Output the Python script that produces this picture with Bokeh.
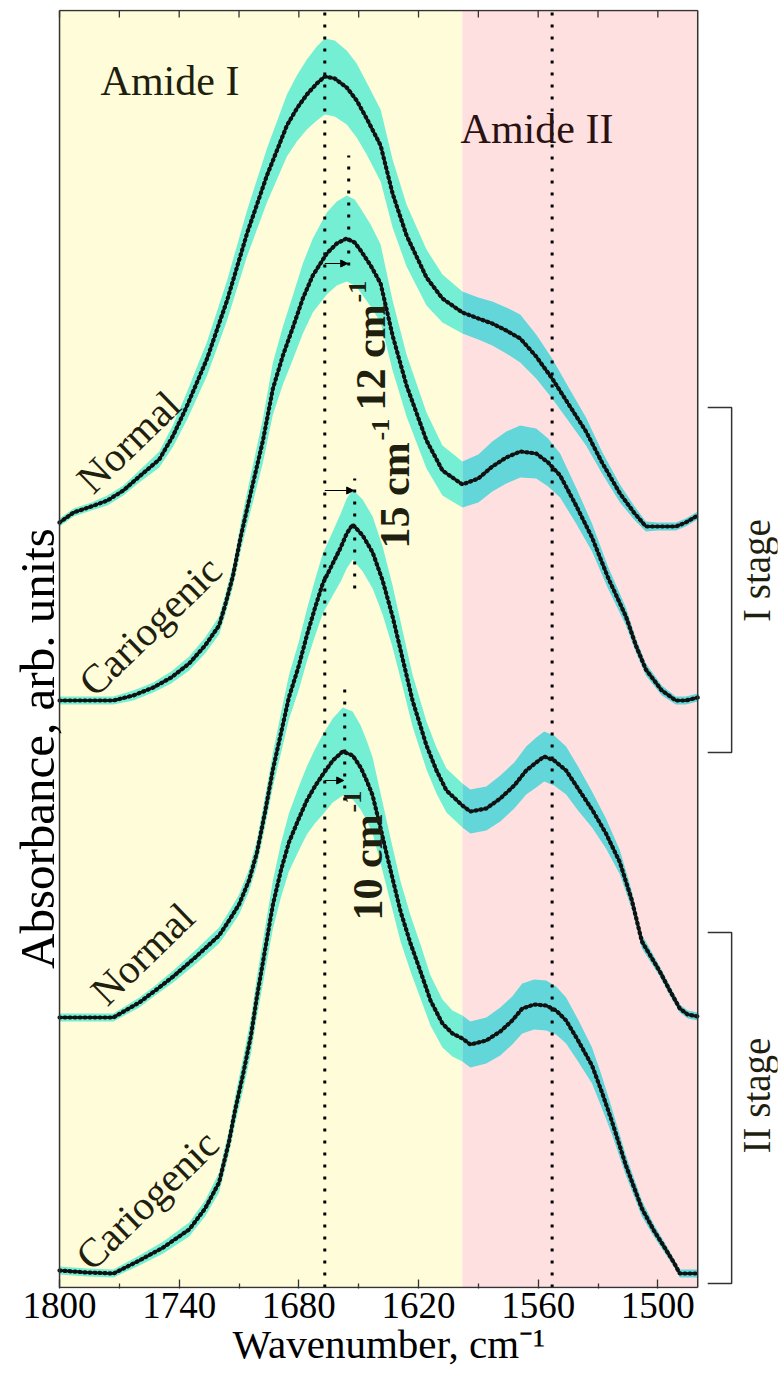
import numpy as np
from bokeh.plotting import figure
from bokeh.models import Range1d, FixedTicker, Label, Arrow, NormalHead, ColumnDataSource
from bokeh.embed import file_html
from bokeh.resources import INLINE

# ---------------- data ----------------
# wavenumber (cm-1), mean absorbance (arb. units, stacked with offsets), std
wn_normal_1 = [1800, 1793, 1784, 1776, 1768, 1760, 1750, 1743, 1736, 1726,
               1716, 1706, 1696, 1686, 1681, 1676, 1671, 1667, 1662, 1656,
               1651, 1646, 1639, 1633, 1626, 1616, 1608, 1598, 1590, 1583,
               1576, 1569, 1561, 1553, 1545, 1536, 1528, 1519, 1512, 1506,
               1500, 1491, 1486, 1480]
abs_normal_1 = [7.65, 7.75, 7.81, 7.87, 7.97, 8.11, 8.28, 8.52, 8.82, 9.29,
                9.87, 10.54, 11.12, 11.62, 11.79, 11.93, 12.04, 12.11, 12.09, 12.00,
                11.87, 11.69, 11.42, 10.94, 10.52, 10.10, 9.89, 9.75, 9.69, 9.64,
                9.57, 9.49, 9.31, 9.09, 8.84, 8.56, 8.25, 7.94, 7.75, 7.61,
                7.61, 7.61, 7.65, 7.72]
sd_normal_1 = [0.04, 0.04, 0.04, 0.05, 0.05, 0.06, 0.08, 0.11, 0.14, 0.17,
               0.20, 0.23, 0.27, 0.31, 0.33, 0.35, 0.37, 0.38, 0.38, 0.37,
               0.37, 0.36, 0.36, 0.34, 0.31, 0.28, 0.24, 0.21, 0.21, 0.22,
               0.23, 0.24, 0.22, 0.20, 0.17, 0.14, 0.11, 0.09, 0.07, 0.05,
               0.04, 0.04, 0.04, 0.04]

wn_carie_1 = [1800, 1786, 1773, 1763, 1753, 1744, 1735, 1727, 1720, 1717,
              1713, 1709, 1705, 1698, 1693, 1688, 1683, 1678, 1673, 1666,
              1661, 1656, 1652, 1649, 1644, 1639, 1633, 1626, 1616, 1608,
              1598, 1590, 1583, 1576, 1569, 1561, 1555, 1549, 1541, 1533,
              1525, 1516, 1511, 1506, 1498, 1491, 1486, 1480]
abs_carie_1 = [5.87, 5.87, 5.87, 5.92, 6.00, 6.10, 6.24, 6.42, 6.62, 6.82,
               7.12, 7.52, 7.87, 8.47, 8.99, 9.32, 9.60, 9.89, 10.12, 10.34,
               10.44, 10.49, 10.45, 10.37, 10.22, 10.04, 9.52, 9.02, 8.47, 8.17,
               8.03, 8.09, 8.21, 8.30, 8.36, 8.34, 8.25, 8.12, 7.82, 7.50,
               7.10, 6.71, 6.42, 6.18, 5.97, 5.87, 5.87, 5.90]
sd_carie_1 = [0.04, 0.04, 0.04, 0.05, 0.05, 0.06, 0.07, 0.08, 0.09, 0.10,
              0.11, 0.14, 0.17, 0.22, 0.26, 0.29, 0.32, 0.35, 0.37, 0.41,
              0.42, 0.43, 0.43, 0.42, 0.41, 0.39, 0.35, 0.31, 0.28, 0.25,
              0.23, 0.24, 0.25, 0.26, 0.26, 0.25, 0.24, 0.22, 0.18, 0.14,
              0.11, 0.09, 0.07, 0.06, 0.05, 0.04, 0.04, 0.04]

wn_normal_2 = [1800, 1786, 1773, 1760, 1752, 1743, 1732, 1720, 1715, 1710,
               1705, 1701, 1697, 1693, 1689, 1685, 1680, 1676, 1672, 1668,
               1663, 1659, 1656, 1653, 1648, 1643, 1638, 1633, 1628, 1623,
               1616, 1611, 1606, 1598, 1594, 1586, 1579, 1572, 1566, 1561,
               1557, 1552, 1546, 1540, 1533, 1526, 1519, 1513, 1508, 1499,
               1494, 1489, 1485, 1480]
abs_normal_2 = [2.70, 2.70, 2.70, 2.85, 2.97, 3.11, 3.30, 3.52, 3.67, 3.83,
                4.07, 4.35, 4.75, 5.18, 5.54, 5.90, 6.22, 6.52, 6.79, 7.04,
                7.24, 7.40, 7.54, 7.63, 7.52, 7.35, 7.07, 6.71, 6.29, 5.87,
                5.42, 5.17, 4.97, 4.82, 4.76, 4.79, 4.89, 5.02, 5.17, 5.25,
                5.31, 5.27, 5.17, 4.99, 4.78, 4.54, 4.25, 3.87, 3.46, 3.16,
                2.97, 2.79, 2.73, 2.71]
sd_normal_2 = [0.04, 0.04, 0.04, 0.05, 0.05, 0.06, 0.07, 0.08, 0.09, 0.10,
               0.11, 0.13, 0.15, 0.17, 0.20, 0.22, 0.24, 0.26, 0.28, 0.30,
               0.32, 0.34, 0.35, 0.35, 0.36, 0.36, 0.34, 0.31, 0.28, 0.26,
               0.24, 0.23, 0.22, 0.22, 0.22, 0.22, 0.23, 0.23, 0.24, 0.25,
               0.25, 0.25, 0.24, 0.22, 0.18, 0.15, 0.12, 0.09, 0.07, 0.05,
               0.05, 0.04, 0.04, 0.04]

wn_carie_2 = [1800, 1786, 1773, 1760, 1748, 1735, 1727, 1720, 1715, 1712,
              1708, 1704, 1701, 1697, 1693, 1689, 1685, 1680, 1676, 1672,
              1668, 1663, 1658, 1653, 1649, 1646, 1643, 1639, 1634, 1629,
              1624, 1619, 1614, 1608, 1603, 1598, 1594, 1586, 1579, 1573,
              1568, 1562, 1556, 1551, 1546, 1540, 1533, 1528, 1523, 1516,
              1508, 1502, 1496, 1492, 1489, 1485, 1480]
abs_carie_2 = [0.17, 0.15, 0.14, 0.27, 0.40, 0.58, 0.79, 1.05, 1.46, 1.77,
               2.13, 2.52, 2.91, 3.37, 3.83, 4.17, 4.45, 4.69, 4.87, 5.01,
               5.13, 5.27, 5.36, 5.32, 5.20, 5.07, 4.92, 4.59, 4.17, 3.76,
               3.44, 3.16, 2.87, 2.64, 2.54, 2.49, 2.43, 2.47, 2.56, 2.67,
               2.79, 2.83, 2.82, 2.77, 2.67, 2.47, 2.22, 1.95, 1.66, 1.22,
               0.79, 0.57, 0.38, 0.25, 0.14, 0.14, 0.14]
sd_carie_2 = [0.04, 0.04, 0.04, 0.05, 0.06, 0.07, 0.08, 0.10, 0.12, 0.14,
              0.16, 0.18, 0.20, 0.22, 0.24, 0.27, 0.29, 0.32, 0.34, 0.37,
              0.40, 0.42, 0.44, 0.44, 0.42, 0.40, 0.38, 0.35, 0.32, 0.30,
              0.28, 0.27, 0.25, 0.24, 0.23, 0.23, 0.23, 0.23, 0.24, 0.24,
              0.25, 0.25, 0.25, 0.24, 0.23, 0.21, 0.18, 0.16, 0.13, 0.10,
              0.08, 0.06, 0.05, 0.04, 0.04, 0.04, 0.04]

series = [
    (wn_normal_1, abs_normal_1, sd_normal_1),
    (wn_carie_1, abs_carie_1, sd_carie_1),
    (wn_normal_2, abs_normal_2, sd_normal_2),
    (wn_carie_2, abs_carie_2, sd_carie_2),
]
for w, a, s in series:
    assert len(w) == len(a) == len(s)

sample_names = ["Normal", "Cariogenic", "Normal", "Cariogenic"]
sample_label_x = [1788.0, 1787.0, 1781.0, 1788.5]
sample_label_y = [8.02, 5.99, 2.90, 0.25]

# spectral regions
WN_START, WN_SPLIT, WN_END = 1800, 1598, 1480
Y_TOP = 12.77

# peak positions (dotted lines) and shifts
peak_amide1 = 1667
peak_amide2 = 1553
shift_values = [12, 15, 10]
shift_peaks = [1655, 1652, 1657]
shift_dot_lo = [10.22, 6.99, 4.87]
shift_dot_hi = [11.32, 8.09, 6.03]
shift_arrow_y = [10.24, 7.97, 5.07]

stage_names = ["I stage", "II stage"]
stage_top = [8.80, 3.55]
stage_bottom = [5.35, 0.04]
stage_text_y = [7.17, 1.92]

major_ticks = [1800, 1740, 1680, 1620, 1560, 1500]
minor_ticks = [1770, 1710, 1650, 1590, 1530]
top_ticks = [1800, 1770, 1740, 1710, 1680, 1650, 1620, 1590, 1560, 1530, 1500]

# ---------------- styles ----------------
SERIF = "Liberation Serif"
YELLOW = "#FFFDD9"
PINK = "#FFE0E0"
BAND1 = "#74EFD3"
BAND2 = "#62D6D8"
FRAME = "#333333"
TXT = "#1F1F10"

p = figure(width=778, height=1385,
           x_range=Range1d(1829.6, 1440.0), y_range=Range1d(-0.01, 12.78),
           output_backend="svg", toolbar_location=None, y_axis_location=None,
           min_border_left=0, min_border_right=1, min_border_top=9, min_border_bottom=97)
p.outline_line_color = None
p.grid.visible = False
p.background_fill_color = "white"
p.border_fill_color = "white"

# backgrounds
p.quad(left=[WN_START], right=[WN_SPLIT], bottom=[0], top=[Y_TOP], fill_color=YELLOW, line_color=None)
p.quad(left=[WN_SPLIT], right=[WN_END], bottom=[0], top=[Y_TOP], fill_color=PINK, line_color=None)

# std bands
for w, a, s in series:
    w = np.array(w, float); a = np.array(a, float); s = np.array(s, float)
    m1 = w >= WN_SPLIT
    m2 = w <= WN_SPLIT
    p.varea(x=w[m1], y1=a[m1] - s[m1], y2=a[m1] + s[m1], fill_color=BAND1)
    p.varea(x=w[m2], y1=a[m2] - s[m2], y2=a[m2] + s[m2], fill_color=BAND2)

# dotted peak lines
for xv in [peak_amide1, peak_amide2]:
    p.line([xv, xv], [0, Y_TOP], line_color="black", line_width=3, line_dash="3 9")
for xv, lo, hi in zip(shift_peaks, shift_dot_lo, shift_dot_hi):
    p.line([xv, xv], [lo, hi], line_color="black", line_width=3, line_dash="3 9")

# mean spectra (solid line + beads)
for w, a, s in series:
    src = ColumnDataSource(dict(x=w, y=a))
    p.line("x", "y", source=src, line_color="#111111", line_width=2.4)
    p.line("x", "y", source=src, line_color="#111111", line_width=4.2, line_dash="1 4",
           line_cap="round")

# frame lines and top ticks
p.line([WN_START, WN_END], [Y_TOP, Y_TOP], line_color=FRAME, line_width=1.5)
p.line([WN_START, WN_END], [0, 0], line_color=FRAME, line_width=1.5)
p.line([WN_END, WN_END], [0, Y_TOP], line_color=FRAME, line_width=1.5)
p.line([WN_START, WN_START], [0, Y_TOP], line_color=FRAME, line_width=1.5)
p.segment(x0=top_ticks, y0=[Y_TOP] * len(top_ticks), x1=top_ticks,
          y1=[Y_TOP - 0.07] * len(top_ticks), line_color=FRAME, line_width=1.3)

# stage brackets
BX0, BX1 = 1475.0, 1463.0
for top, bot, name, ty in zip(stage_top, stage_bottom, stage_names, stage_text_y):
    p.line([BX0, BX1, BX1, BX0], [top, top, bot, bot], line_color=FRAME, line_width=1.5)
    p.add_layout(Label(x=1450.5, y=ty, text=name, angle=np.pi / 2, text_align="center",
                       text_baseline="alphabetic", text_font=SERIF, text_font_size="39px",
                       text_color=TXT))

# x axis
xa = p.xaxis[0]
xa.ticker = FixedTicker(ticks=major_ticks, minor_ticks=minor_ticks)
xa.axis_line_color = None
xa.major_tick_in = 9
xa.major_tick_out = 0
xa.minor_tick_in = 5
xa.minor_tick_out = 0
xa.major_tick_line_color = FRAME
xa.minor_tick_line_color = FRAME
xa.major_tick_line_width = 1.3
xa.minor_tick_line_width = 1.3
xa.major_label_text_font = SERIF
xa.major_label_text_font_size = "37px"
xa.major_label_text_color = "black"
xa.major_label_standoff = 4
xa.axis_label = "Wavenumber, cm\u207b\u00b9"
xa.axis_label_text_font = SERIF
xa.axis_label_text_font_size = "41px"
xa.axis_label_text_font_style = "normal"
xa.axis_label_text_color = "black"
xa.axis_label_standoff = 0

# y title (inside the widened frame, left of the spectra)
p.add_layout(Label(x=1811.0, y=5.39, text="Absorbance, arb. units", angle=np.pi / 2,
                   text_align="center", text_baseline="middle", text_font=SERIF,
                   text_font_size="49px", text_color="black"))

# region names
p.add_layout(Label(x=1779.4, y=12.07, text="Amide I", text_font=SERIF, text_font_size="42px",
                   text_baseline="alphabetic", text_color=TXT))
p.add_layout(Label(x=1598.9, y=11.59, text="Amide II", text_font=SERIF, text_font_size="42px",
                   text_baseline="alphabetic", text_color="#2A1212"))

# sample names
for name, lx, ly in zip(sample_names, sample_label_x, sample_label_y):
    p.add_layout(Label(x=lx, y=ly, text=name, angle=0.77, text_align="left",
                       text_baseline="alphabetic", text_font=SERIF, text_font_size="41px",
                       text_color=TXT))

# shift arrows and labels
main_pos = [(1643.6, 8.77), (1632.0, 7.39), (1645.1, 3.67)]
sup_pos = [(1650.6, 9.85), (1639.0, 8.47), (1653.1, 4.75)]
for val, xe, ay, mp, sp in zip(shift_values, shift_peaks, shift_arrow_y, main_pos, sup_pos):
    p.add_layout(Arrow(end=NormalHead(size=7, fill_color="black", line_color="black"),
                       x_start=peak_amide1, y_start=ay, x_end=xe + 0.5, y_end=ay,
                       line_color="black", line_width=1.2))
    p.add_layout(Label(x=mp[0], y=mp[1], text=f"{val} cm", angle=np.pi / 2, text_align="left",
                       text_baseline="alphabetic", text_font=SERIF, text_font_size="42px",
                       text_font_style="bold", text_color=TXT))
    p.add_layout(Label(x=sp[0], y=sp[1], text="-1", angle=np.pi / 2, text_align="left",
                       text_baseline="alphabetic", text_font=SERIF, text_font_size="26px",
                       text_font_style="bold", text_color=TXT))

open("out.html", "w").write(file_html(p, INLINE))
